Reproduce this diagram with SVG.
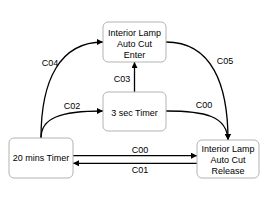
<svg xmlns="http://www.w3.org/2000/svg" width="268" height="203" viewBox="0 0 268 203">
<style>
.node rect{fill:#fff;stroke:#b3b3b3;stroke-width:1}
text{font-family:"Liberation Sans",Arial,sans-serif;font-size:9px;fill:#000;text-anchor:middle}
.edge{fill:none;stroke:#000;stroke-width:1.3}
</style>
<defs>
<marker id="arr" viewBox="0 0 10 10" refX="10" refY="5" markerWidth="7" markerHeight="6" markerUnits="userSpaceOnUse" orient="auto">
<path d="M0,0 L10,5 L0,10 z" fill="#000"/>
</marker>
</defs>
<rect width="268" height="203" fill="#fff"/>
<g id="connectors">
<path class="edge" d="M41,138 C41,80 60,42 103,42" marker-end="url(#arr)"/>
<text x="50" y="66">C04</text>
<path class="edge" d="M41,138 C41,118 60,111 103,111" marker-end="url(#arr)"/>
<text x="72" y="109">C02</text>
<path class="edge" d="M134.5,92 L134.5,62" marker-end="url(#arr)"/>
<text x="122" y="82">C03</text>
<path class="edge" d="M166,42 C212,42 228,85 228,140" marker-end="url(#arr)"/>
<text x="225" y="64">C05</text>
<path class="edge" d="M166,111 C205,111 227,116 228,140" marker-end="url(#arr)"/>
<text x="204" y="108">C00</text>
<path class="edge" d="M73,155.7 L197,155.7" marker-end="url(#arr)"/>
<text x="140" y="152.5">C00</text>
<path class="edge" d="M197,163.3 L73,163.3" marker-end="url(#arr)"/>
<text x="140" y="173">C01</text>
</g>
<g id="enter" class="node">
<rect x="103" y="22" width="63" height="40" rx="5"/>
<text x="134.5" y="35.5">Interior Lamp</text>
<text x="134.5" y="46.5">Auto Cut</text>
<text x="134.5" y="57.5">Enter</text>
</g>
<g id="timer3" class="node">
<rect x="103" y="92" width="63" height="39" rx="5"/>
<text x="134.5" y="115.5">3 sec Timer</text>
</g>
<g id="timer20" class="node">
<rect x="9" y="138" width="64" height="40" rx="5"/>
<text x="41" y="161">20 mins Timer</text>
</g>
<g id="release" class="node">
<rect x="197" y="140" width="62" height="38" rx="5"/>
<text x="228" y="151.5">Interior Lamp</text>
<text x="228" y="162.5">Auto Cut</text>
<text x="228" y="173.5">Release</text>
</g>
</svg>
